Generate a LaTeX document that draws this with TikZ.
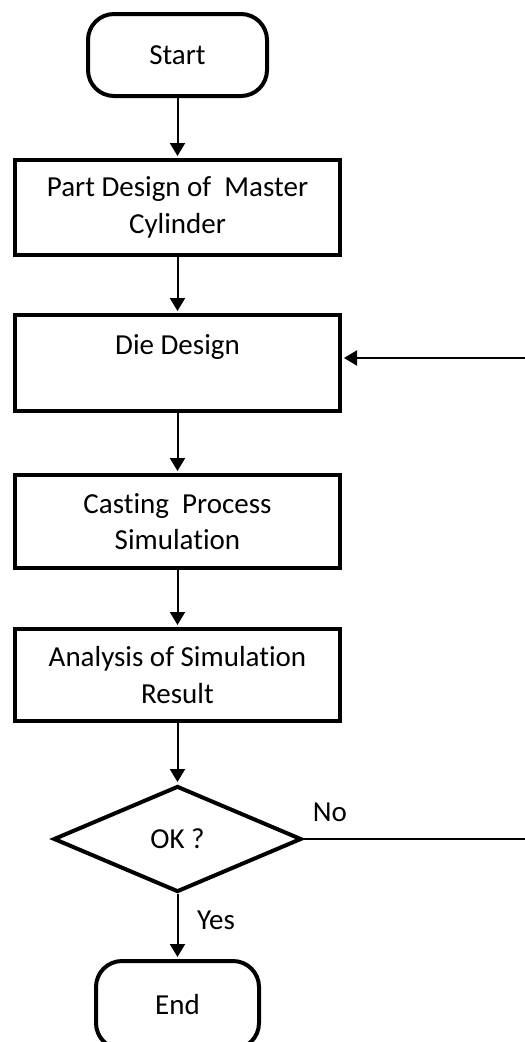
\documentclass[tikz,border=0pt]{standalone}
\usepackage{fontspec}
\setmainfont[Ligatures=CommonOff]{Carlito}
\usetikzlibrary{shapes.geometric, arrows.meta}

\tikzset{
	box/.style={draw, line width=4pt, minimum width=325pt, align=center, inner sep=0pt},
	term/.style={draw, line width=4pt, rounded corners=26pt, align=center},
	flow/.style={line width=2pt, shorten >=2pt, -{Triangle[width=15pt,length=13pt]}},
}

\begin{document}
\begin{tikzpicture}[x=1pt, y=-1pt, font=\fontsize{29}{36.5}\selectfont]
	\useasboundingbox (0,0) rectangle (525,1042);
	
	\node[term, minimum width=179pt, minimum height=82pt] (start) at (177.5,55) {Start};
	\node[box, minimum height=95pt] (part) at (177.5,207.5) {Part Design of~ Master\\Cylinder};
	\node[box, minimum height=96pt] (die) at (177.5,363) {Die Design\\~};
	\node[box, minimum height=93pt] (cast) at (177.5,521.5) {Casting~ Process\\Simulation};
	\node[box, minimum height=92pt] (anal) at (177.5,675) {Analysis of Simulation\\Result};
	\node[draw, diamond, line width=4pt, minimum width=248pt, minimum height=106pt, inner sep=0pt] (ok) at (177.5,839) {OK ?};
	\node[term, minimum width=163pt, minimum height=88pt] (end) at (177.5,1005) {End};
	
	\draw[flow] (start) -- (part);
	\draw[flow] (part) -- (die);
	\draw[flow] (die) -- (cast);
	\draw[flow] (cast) -- (anal);
	\draw[flow] (anal) -- (ok);
	\draw[flow] (ok) -- (end);
	\node (yes) at (216,920) {Yes};
	
	% loop back to the die design
	\coordinate (noend) at (525,839);
	\coordinate (backin) at (525,358);
	\draw[line width=1.7pt] (ok.east) -- (noend);
	\node (no) at (330,812) {No};
	\draw[flow] (backin) -- (backin -| die.east);
\end{tikzpicture}
\end{document}
